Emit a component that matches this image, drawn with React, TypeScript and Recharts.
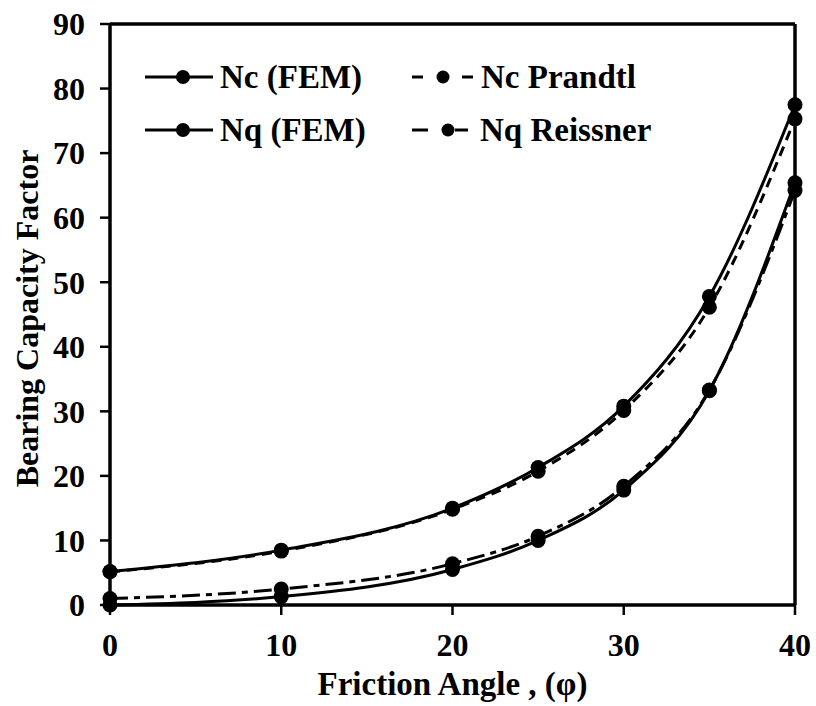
import React from 'react';
import {
  LineChart,
  Line,
  XAxis,
  YAxis,
  Legend,
  ReferenceLine,
  Label,
} from 'recharts';

// friction angle (deg) and bearing capacity factors
const angles = [0, 10, 20, 25, 30, 35, 40];
const ncFem = [5.2, 8.5, 15.0, 21.3, 30.8, 47.8, 77.5];
const ncPrandtl = [5.14, 8.35, 14.83, 20.72, 30.14, 46.12, 75.31];
const nqFem = [0, 1.3, 5.5, 10.0, 17.8, 33.2, 65.4];
const nqReissner = [1.0, 2.47, 6.4, 10.66, 18.4, 33.3, 64.2];

const xTicks = [0, 10, 20, 30, 40];
const yTicks = [0, 10, 20, 30, 40, 50, 60, 70, 80, 90];

const data = angles.map((phi, i) => ({
  phi,
  ncFem: ncFem[i],
  ncPrandtl: ncPrandtl[i],
  nqFem: nqFem[i],
  nqReissner: nqReissner[i],
}));

const FONT = '"Liberation Serif", "Times New Roman", serif';
const INK = '#000';

const dot = { r: 7.5, fill: INK, stroke: INK, strokeWidth: 0 };

// legend sample glyphs: solid / dashed / dash-dot with a marker
const Sample = ({ kind }: { kind: string }) => {
  if (kind === 'solid') {
    return (
      <svg width={72} height={20} style={{ display: 'block' }}>
        <line x1={0} y1={10} x2={68} y2={10} stroke={INK} strokeWidth={3} />
        <circle cx={38} cy={10} r={7} fill={INK} />
      </svg>
    );
  }
  if (kind === 'dash') {
    return (
      <svg width={66} height={20} style={{ display: 'block' }}>
        <line x1={0} y1={10} x2={11} y2={10} stroke={INK} strokeWidth={3} />
        <circle cx={31} cy={10} r={6.5} fill={INK} />
        <line x1={50} y1={10} x2={61} y2={10} stroke={INK} strokeWidth={3} />
      </svg>
    );
  }
  return (
    <svg width={65} height={20} style={{ display: 'block' }}>
      <line x1={0} y1={10} x2={16} y2={10} stroke={INK} strokeWidth={3} />
      <circle cx={36} cy={10} r={6.5} fill={INK} />
      <line x1={43} y1={10} x2={56} y2={10} stroke={INK} strokeWidth={3} />
    </svg>
  );
};

const legendItems = [
  { label: 'Nc (FEM)', kind: 'solid' },
  { label: 'Nc Prandtl', kind: 'dash' },
  { label: 'Nq (FEM)', kind: 'solid' },
  { label: 'Nq Reissner', kind: 'dashdot' },
];

const LegendGrid = () => (
  <div
    style={{
      display: 'grid',
      gridTemplateColumns: '267px auto',
      rowGap: 15,
      fontFamily: FONT,
      fontWeight: 'bold',
      fontSize: 33,
      color: INK,
    }}
  >
    {legendItems.map((it) => (
      <div key={it.label} style={{ display: 'flex', alignItems: 'center', height: 38, whiteSpace: 'nowrap' }}>
        <Sample kind={it.kind} />
        <span style={{ marginLeft: 3 }}>{it.label}</span>
      </div>
    ))}
  </div>
);

const tickStyle = { fontFamily: FONT, fontWeight: 'bold', fontSize: 32, fill: INK };

const YTitle = (props: any) => {
  const { viewBox } = props;
  const cx = viewBox.x + 27;
  const cy = viewBox.y + viewBox.height / 2 + 4;
  return (
    <text
      x={cx}
      y={cy}
      transform={`rotate(-90 ${cx} ${cy})`}
      textAnchor="middle"
      dominantBaseline="central"
      style={{ fontFamily: FONT, fontWeight: 'bold', fontSize: 32, fill: INK }}
    >
      Bearing Capacity Factor
    </text>
  );
};

const XTitle = (props: any) => {
  const { viewBox } = props;
  const cx = viewBox.x + viewBox.width / 2;
  return (
    <text
      x={cx}
      y={viewBox.y + 90}
      textAnchor="middle"
      style={{ fontFamily: FONT, fontWeight: 'bold', fontSize: 33, fill: INK }}
    >
      Friction Angle , (φ)
    </text>
  );
};

export default function App() {
  return (
    <div style={{ position: 'absolute', left: 0, top: 0, width: 816, height: 706, background: '#fff' }}>
      <LineChart
        width={816}
        height={706}
        data={data}
        margin={{ top: 24, right: 21, bottom: 41, left: 0 }}
      >
        <XAxis
          dataKey="phi"
          type="number"
          domain={[0, 40]}
          ticks={xTicks}
          tick={tickStyle}
          tickSize={10}
          tickMargin={18}
          height={60}
          axisLine={{ stroke: INK, strokeWidth: 3.5 }}
          tickLine={{ stroke: INK, strokeWidth: 2.5 }}
        >
          <Label content={<XTitle />} />
        </XAxis>
        <YAxis
          type="number"
          domain={[0, 90]}
          ticks={yTicks}
          tick={tickStyle}
          tickSize={10}
          tickMargin={15}
          width={110}
          interval={0}
          axisLine={{ stroke: INK, strokeWidth: 3.5 }}
          tickLine={{ stroke: INK, strokeWidth: 2.5 }}
        >
          <Label content={<YTitle />} />
        </YAxis>

        {/* closing frame on top and right */}
        <ReferenceLine y={90} stroke={INK} strokeWidth={3.5} />
        <ReferenceLine x={40} stroke={INK} strokeWidth={3.5} />

        {/* centred + middle so the legend takes no room from the plot */}
        <Legend
          layout="vertical"
          verticalAlign="middle"
          align="center"
          content={() => <LegendGrid />}
          wrapperStyle={{ left: 145, top: 58, width: 'auto' }}
        />

        <Line
          type="monotone"
          dataKey="nqReissner"
          stroke={INK}
          strokeWidth={3}
          strokeDasharray="18 6 6 6"
          dot={dot}
          activeDot={false}
          isAnimationActive={false}
        />
        <Line
          type="monotone"
          dataKey="nqFem"
          stroke={INK}
          strokeWidth={3}
          dot={dot}
          activeDot={false}
          isAnimationActive={false}
        />
        <Line
          type="monotone"
          dataKey="ncPrandtl"
          stroke={INK}
          strokeWidth={3}
          strokeDasharray="10 7"
          dot={dot}
          activeDot={false}
          isAnimationActive={false}
        />
        <Line
          type="monotone"
          dataKey="ncFem"
          stroke={INK}
          strokeWidth={3}
          dot={dot}
          activeDot={false}
          isAnimationActive={false}
        />
      </LineChart>
    </div>
  );
}
